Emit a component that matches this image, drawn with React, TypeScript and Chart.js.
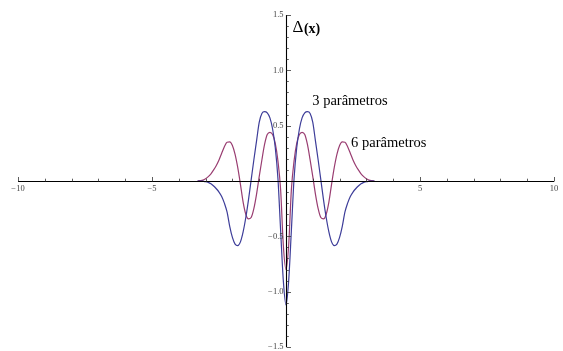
import React, { useEffect, useRef } from "react";
import { Chart, registerables } from "chart.js";

Chart.register(...registerables);

const xs = [
  -3.3, -3.2, -3.1, -3.0, -2.9, -2.8, -2.7, -2.6, -2.5, -2.4, -2.3, -2.2, -2.1, -2.0, -1.9, -1.8, -1.7,
  -1.6, -1.5, -1.4, -1.3, -1.2, -1.1, -1.0, -0.9, -0.8, -0.7, -0.6, -0.5, -0.4, -0.3, -0.2, -0.1,
  0.0, 0.1, 0.2, 0.3, 0.4, 0.5, 0.6, 0.7, 0.8, 0.9, 1.0, 1.1, 1.2, 1.3, 1.4, 1.5, 1.6,
  1.7, 1.8, 1.9, 2.0, 2.1, 2.2, 2.3, 2.4, 2.5, 2.6, 2.7, 2.8, 2.9, 3.0, 3.1, 3.2, 3.3,
];

const tresParametros = [
  0, 0, -0.002, -0.005, -0.012, -0.025, -0.045, -0.07, -0.1, -0.14, -0.2, -0.28, -0.41, -0.51, -0.57, -0.584, -0.55,
  -0.46, -0.33, -0.17, 0.01, 0.19, 0.36, 0.53, 0.61, 0.626, 0.615, 0.57, 0.47, 0.3, 0.02, -0.45, -0.9,
  -1.12, -0.9, -0.45, 0.02, 0.3, 0.47, 0.57, 0.615, 0.626, 0.61, 0.53, 0.36, 0.19, 0.01, -0.17, -0.33, -0.46,
  -0.55, -0.584, -0.57, -0.51, -0.41, -0.28, -0.2, -0.14, -0.1, -0.07, -0.045, -0.025, -0.012, -0.005, -0.002, 0, 0,
];

const seisParametros = [
  0, 0.003, 0.008, 0.02, 0.04, 0.065, 0.1, 0.14, 0.19, 0.25, 0.31, 0.35, 0.353, 0.32, 0.24, 0.12, -0.03,
  -0.19, -0.3, -0.343, -0.33, -0.25, -0.12, 0.04, 0.19, 0.33, 0.42, 0.44, 0.42, 0.34, 0.18, -0.08, -0.58,
  -0.8, -0.58, -0.08, 0.18, 0.34, 0.42, 0.44, 0.42, 0.33, 0.19, 0.04, -0.12, -0.25, -0.33, -0.343, -0.3, -0.19,
  -0.03, 0.12, 0.24, 0.32, 0.353, 0.35, 0.31, 0.25, 0.19, 0.14, 0.1, 0.065, 0.04, 0.02, 0.008, 0.003, 0,
];

const xMajorTicks = [-10, -5, 5, 10];
const xMajorLabels = ["\u221210", "\u22125", "5", "10"];
const yMajorTicks = [-1.5, -1.0, -0.5, 0.5, 1.0, 1.5];
const yMajorLabels = ["\u22121.5", "\u22121.0", "\u22120.5", "0.5", "1.0", "1.5"];

const BLUE = "#3d3d99";
const PURPLE = "#993d71";
const SERIF = "'Liberation Serif', 'DejaVu Serif', serif";

const axesPlugin = {
  id: "mathAxes",
  afterDatasetsDraw(chart: any) {
    const ctx = chart.ctx;
    const xs_ = chart.scales.x;
    const ys_ = chart.scales.y;
    const x0 = Math.round(xs_.getPixelForValue(0)) + 0.5;
    const y0 = Math.round(ys_.getPixelForValue(0)) + 0.5;
    ctx.save();
    ctx.strokeStyle = "#000";
    ctx.lineWidth = 1.1;
    ctx.beginPath();
    ctx.moveTo(xs_.getPixelForValue(-10), y0);
    ctx.lineTo(xs_.getPixelForValue(10), y0);
    ctx.moveTo(x0, ys_.getPixelForValue(1.5));
    ctx.lineTo(x0, ys_.getPixelForValue(-1.5));
    ctx.stroke();

    ctx.lineWidth = 0.8;
    ctx.strokeStyle = "#333";
    ctx.beginPath();
    for (let v = -10; v <= 10; v++) {
      if (v === 0) continue;
      const p = Math.round(xs_.getPixelForValue(v)) + 0.5;
      const len = v % 5 === 0 ? 4.5 : 2.8;
      ctx.moveTo(p, y0);
      ctx.lineTo(p, y0 - len);
    }
    for (let k = -15; k <= 15; k++) {
      if (k === 0) continue;
      const p = Math.round(ys_.getPixelForValue(k / 10)) + 0.5;
      const len = k % 5 === 0 ? 4.5 : 2.3;
      ctx.moveTo(x0, p);
      ctx.lineTo(x0 + len, p);
    }
    ctx.stroke();

    ctx.fillStyle = "#444";
    ctx.font = `8.5px ${SERIF}`;
    ctx.textAlign = "center";
    ctx.textBaseline = "top";
    xMajorTicks.forEach((v, i) => {
      ctx.fillText(xMajorLabels[i], xs_.getPixelForValue(v), y0 + 3.5);
    });
    ctx.textAlign = "right";
    ctx.textBaseline = "middle";
    yMajorTicks.forEach((v, i) => {
      ctx.fillText(yMajorLabels[i], x0 - 3, ys_.getPixelForValue(v));
    });

    ctx.fillStyle = "#000";
    ctx.textAlign = "left";
    ctx.textBaseline = "middle";
    ctx.font = `17px ${SERIF}`;
    ctx.fillText("\u0394", x0 + 6, ys_.getPixelForValue(1.39));
    const dw = ctx.measureText("\u0394").width;
    ctx.font = `bold 14px ${SERIF}`;
    ctx.fillText("(x)", x0 + 6 + dw + 0.5, ys_.getPixelForValue(1.37));
    ctx.font = `14.5px ${SERIF}`;
    ctx.fillText("3 par\u00e2metros", xs_.getPixelForValue(0.98), ys_.getPixelForValue(0.72));
    ctx.fillText("6 par\u00e2metros", xs_.getPixelForValue(2.43), ys_.getPixelForValue(0.34));
    ctx.restore();
  },
};

export default function App() {
  const ref = useRef<HTMLCanvasElement | null>(null);
  useEffect(() => {
    if (!ref.current) return;
    const chart = new Chart(ref.current, {
      type: "line",
      data: {
        datasets: [
          {
            label: "3 parâmetros",
            data: xs.map((x, i) => ({ x, y: tresParametros[i] })),
            borderColor: BLUE,
            borderWidth: 1.2,
            pointRadius: 0,
            cubicInterpolationMode: "monotone",
            fill: false,
          },
          {
            label: "6 parâmetros",
            data: xs.map((x, i) => ({ x, y: seisParametros[i] })),
            borderColor: PURPLE,
            borderWidth: 1.2,
            pointRadius: 0,
            cubicInterpolationMode: "monotone",
            fill: false,
          },
        ],
      },
      options: {
        responsive: true,
        maintainAspectRatio: false,
        animation: false,
        layout: { padding: { left: 18, right: 9, top: 15, bottom: 4 } },
        plugins: {
          legend: { display: false },
          tooltip: { enabled: false },
        },
        scales: {
          x: { type: "linear", min: -10, max: 10, display: false },
          y: { type: "linear", min: -1.5, max: 1.5, display: false },
        },
      },
      plugins: [axesPlugin],
    } as any);
    return () => chart.destroy();
  }, []);
  return (
    <div style={{ position: "fixed", left: 0, top: 0, width: 563, height: 351, background: "#fff" }}>
      <canvas ref={ref} />
    </div>
  );
}
